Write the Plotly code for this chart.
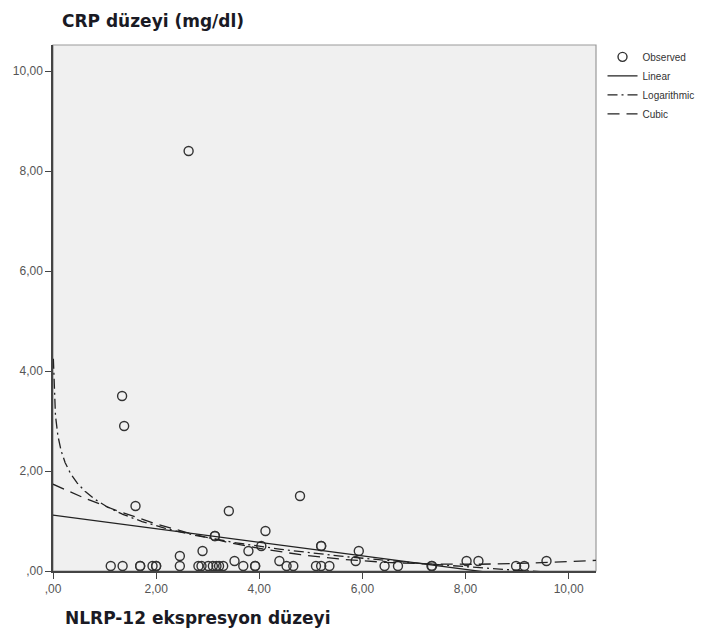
import numpy as np
import plotly.graph_objects as go

nlrp12 = [1.34, 1.38, 2.63, 1.60, 3.41, 4.79, 4.12, 3.14, 3.14, 4.04, 5.20, 5.20,
          5.93, 3.79, 2.90, 2.46, 3.52, 4.39, 5.87, 8.02, 8.25, 9.57,
          1.12, 1.35, 1.69, 1.69, 1.93, 2.00, 2.00, 2.46, 2.82, 2.88, 3.01, 3.10,
          3.17, 3.22, 3.30, 3.69, 3.92, 3.92, 4.53, 4.66, 5.10, 5.20, 5.36, 6.43,
          6.69, 7.34, 7.35, 8.98, 9.14]
crp = [3.50, 2.90, 8.40, 1.30, 1.20, 1.50, 0.80, 0.70, 0.70, 0.50, 0.50, 0.50,
       0.40, 0.40, 0.40, 0.30, 0.20, 0.20, 0.20, 0.20, 0.20, 0.20,
       0.10, 0.10, 0.10, 0.10, 0.10, 0.10, 0.10, 0.10, 0.10, 0.10, 0.10, 0.10,
       0.10, 0.10, 0.10, 0.10, 0.10, 0.10, 0.10, 0.10, 0.10, 0.10, 0.10, 0.10,
       0.10, 0.10, 0.10, 0.10, 0.10]

x_tick_vals = [0, 2, 4, 6, 8, 10]
x_tick_text = [",00", "2,00", "4,00", "6,00", "8,00", "10,00"]
y_tick_vals = [0, 2, 4, 6, 8, 10]
y_tick_text = [",00", "2,00", "4,00", "6,00", "8,00", "10,00"]

x_range = [0, 10.53]
y_range = [0, 10.52]

# Curve fits computed from the observed data
xa = np.array(nlrp12)
ya = np.array(crp)
lin_c = np.polyfit(xa, ya, 1)
log_c = np.polyfit(np.log(xa), ya, 1)
cub_c = np.polyfit(xa, ya, 3)

xg = np.linspace(x_range[0], x_range[1], 400)
xg_log = np.geomspace(0.007, x_range[1], 600)

ink = "#222222"
fig = go.Figure()
fig.add_trace(go.Scatter(
    x=nlrp12, y=crp, mode="markers", name="Observed",
    marker=dict(symbol="circle-open", size=9, color="#333333", line=dict(width=1.4)),
    cliponaxis=False))
fig.add_trace(go.Scatter(
    x=xg, y=np.polyval(lin_c, xg), mode="lines", name="Linear",
    line=dict(color=ink, width=1.3)))
fig.add_trace(go.Scatter(
    x=xg_log, y=np.polyval(log_c, np.log(xg_log)), mode="lines", name="Logarithmic",
    line=dict(color=ink, width=1.3, dash="10px,4px,2px,4px")))
fig.add_trace(go.Scatter(
    x=xg, y=np.polyval(cub_c, xg), mode="lines", name="Cubic",
    line=dict(color=ink, width=1.3, dash="12px,7px")))

tick_font = dict(family="Liberation Sans, Arial, sans-serif", size=12, color="#555555")
title_font = dict(family="DejaVu Sans, sans-serif", size=17, color="#1a1a24")
fig.update_layout(
    width=704, height=630,
    margin=dict(l=45, r=107, t=37, b=67),
    paper_bgcolor="white",
    plot_bgcolor="#f0f0f0",
    showlegend=True,
    legend=dict(x=1.012, y=1.005, xanchor="left", yanchor="top",
                font=dict(family="Liberation Sans, Arial, sans-serif", size=10, color="#333333"),
                bgcolor="rgba(0,0,0,0)", tracegroupgap=0, itemwidth=30),
    xaxis=dict(range=x_range, tickvals=x_tick_vals, ticktext=x_tick_text, automargin=False,
               showgrid=False, zeroline=False, showline=True, linecolor="#444444", linewidth=1.5,
               ticks="outside", ticklen=6, tickcolor="#444444", tickwidth=1.3,
               tickfont=tick_font),
    yaxis=dict(range=y_range, tickvals=y_tick_vals, ticktext=y_tick_text, automargin=False,
               showgrid=False, zeroline=False, showline=True, linecolor="#444444", linewidth=1.5,
               ticks="outside", ticklen=6, tickcolor="#444444", tickwidth=1.3,
               tickfont=tick_font),
    shapes=[dict(type="rect", xref="paper", yref="paper", x0=0, x1=1, y0=0, y1=1,
                 line=dict(color="#9a9a9a", width=1.2), layer="below")],
    annotations=[
        dict(text="<b>CRP düzeyi (mg/dl)</b>", xref="paper", yref="paper",
             x=(60 - 53) / 552, y=(571 - 9) / 526, xanchor="left", yanchor="top",
             showarrow=False, font=title_font),
        dict(text="<b>NLRP-12 ekspresyon düzeyi</b>", xref="paper", yref="paper",
             x=(63 - 53) / 552, y=-(606 - 571) / 526, xanchor="left", yanchor="top",
             showarrow=False, font=title_font),
    ],
)

fig.write_html("out.html")
